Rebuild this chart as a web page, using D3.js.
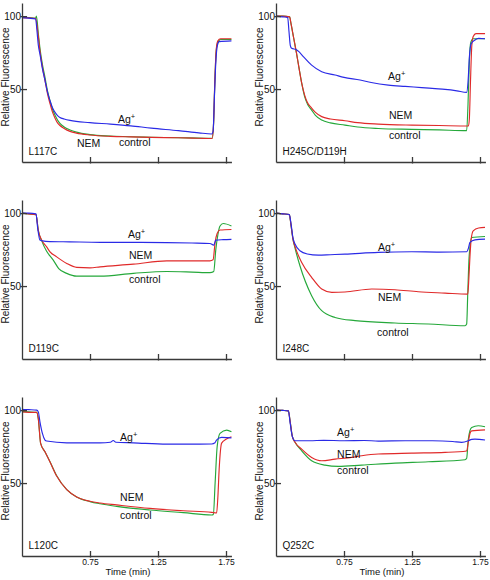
<!DOCTYPE html>
<html>
<head>
<meta charset="utf-8">
<script src="https://cdn.jsdelivr.net/npm/d3@7"></script>
<style>
  html, body { margin: 0; padding: 0; background: #fff; }
  svg { display: block; font-family: "Liberation Sans", Arial, sans-serif; }
</style>
</head>
<body>
<svg id="chart" width="490" height="580"></svg>
<script>
// ---- data: [time (min), relative fluorescence] ----
const L117C_control = [[0.25,99.5],[0.30,99],[0.35,98.5],[0.356,100],[0.37,88],[0.382,78],[0.40,67],[0.419,58],[0.437,49],[0.456,42],[0.475,36],[0.493,32],[0.51,29],[0.529,26.5],[0.56,24],[0.603,22],[0.65,20.5],[0.75,18.8],[0.90,17.8],[1.05,17.3],[1.20,17],[1.40,16.6],[1.55,16.4],[1.648,16.2],[1.658,25],[1.668,55],[1.678,76],[1.69,82],[1.71,84],[1.79,84]];
const L117C_NEM = [[0.25,99],[0.30,98.8],[0.35,98.5],[0.37,86],[0.382,76],[0.40,65],[0.419,56],[0.437,47],[0.456,40],[0.475,34],[0.493,30],[0.51,27],[0.529,25],[0.56,23],[0.603,21],[0.65,19.8],[0.75,18.5],[0.90,17.6],[1.05,17.2],[1.20,16.9],[1.40,16.6],[1.55,16.3],[1.648,16.1],[1.658,25],[1.668,56],[1.678,77],[1.69,83],[1.71,84.5],[1.79,84.5]];
const L117C_Ag = [[0.25,99],[0.30,98.6],[0.35,98],[0.36,90],[0.37,80],[0.382,74],[0.40,64],[0.419,56],[0.437,48],[0.456,42],[0.475,37],[0.493,34],[0.51,32],[0.529,30.5],[0.56,29.5],[0.603,28.5],[0.75,27],[0.90,26],[1.05,24.8],[1.20,23.2],[1.40,21.5],[1.55,20],[1.645,19.2],[1.655,21],[1.665,45],[1.675,68],[1.687,80],[1.70,82.5],[1.79,83]];

const H245C_control = [[0.25,100],[0.30,100],[0.35,99.5],[0.36,95],[0.38,85],[0.40,75],[0.42,64],[0.439,54],[0.46,45],[0.48,40],[0.512,35.6],[0.54,32],[0.586,28.8],[0.65,26.8],[0.757,25.3],[0.85,24],[1.002,23],[1.248,22.4],[1.45,22],[1.652,21.5],[1.662,40],[1.672,70],[1.682,82],[1.70,84.5],[1.787,84.5]];
const H245C_NEM = [[0.25,100],[0.30,100],[0.35,99.5],[0.36,95],[0.38,85],[0.40,75],[0.42,64],[0.439,54],[0.46,46],[0.48,41],[0.512,37],[0.54,34],[0.586,31.1],[0.65,29.5],[0.757,28.3],[0.85,27],[1.002,26],[1.248,25.3],[1.45,25],[1.665,24.7],[1.672,30],[1.68,55],[1.69,80],[1.70,86],[1.72,88],[1.787,88]];
const H245C_Ag = [[0.25,100],[0.30,99.5],[0.336,99],[0.345,90],[0.355,80],[0.365,77.9],[0.40,77],[0.414,76],[0.451,72.3],[0.512,66.4],[0.586,61.9],[0.684,59.6],[0.75,58],[0.868,56.2],[0.95,54.5],[1.076,52.7],[1.2,51.8],[1.321,51],[1.42,50.3],[1.493,49.8],[1.58,48.8],[1.652,47.7],[1.662,55],[1.672,72],[1.685,81],[1.713,83.6],[1.74,84.7],[1.787,84.5]];

const D119C_control = [[0.25,100],[0.30,99.5],[0.353,99],[0.37,88],[0.395,81],[0.43,74],[0.48,67.8],[0.52,62],[0.579,58.7],[0.652,56.8],[0.824,56.8],[1.069,58.7],[1.314,60],[1.50,59.6],[1.632,59.2],[1.66,60],[1.675,75],[1.69,85],[1.705,91],[1.73,92.9],[1.79,91.2]];
const D119C_NEM = [[0.25,100],[0.30,99.5],[0.353,99],[0.37,88],[0.395,81.5],[0.43,77],[0.456,73.5],[0.505,70],[0.579,65.5],[0.652,62.8],[0.75,62.5],[0.824,63.2],[1.069,65],[1.314,67.3],[1.632,67.3],[1.655,68],[1.67,80],[1.685,86],[1.706,88.4],[1.79,88.8]];
const D119C_Ag = [[0.25,100],[0.30,100],[0.353,99.5],[0.365,90],[0.382,81.5],[0.40,81],[0.456,80.5],[0.6,80.3],[0.824,80],[1.069,80],[1.314,79.8],[1.50,79.5],[1.632,79.2],[1.66,78],[1.675,81.5],[1.73,81.8],[1.79,82]];

const I248C_control = [[0.25,100],[0.30,99.5],[0.348,99],[0.36,92],[0.375,82],[0.39,76],[0.426,63.9],[0.512,43.4],[0.586,33.1],[0.684,28.5],[0.831,26.3],[1.125,24.7],[1.37,24],[1.64,22.8],[1.652,24],[1.66,45],[1.67,70],[1.689,83.3],[1.787,84]];
const I248C_NEM = [[0.25,100],[0.30,99.5],[0.348,99],[0.36,92],[0.375,82],[0.39,77],[0.439,66.2],[0.512,56],[0.586,48],[0.66,45.7],[0.757,45.9],[0.954,48],[1.125,47.5],[1.296,46.1],[1.493,45.2],[1.66,44.5],[1.668,55],[1.676,70],[1.685,82],[1.70,87.9],[1.74,89.8],[1.787,90.2]];
const I248C_Ag = [[0.25,100],[0.30,99.5],[0.348,99],[0.36,93],[0.375,83],[0.39,78.8],[0.426,74.2],[0.48,72],[0.561,71.2],[0.65,71.5],[0.757,71.9],[1.002,73.1],[1.248,73.5],[1.45,73.3],[1.652,73.5],[1.665,76],[1.676,79.9],[1.713,81.7],[1.787,82.2]];

const L120C_control = [[0.25,99],[0.30,98.8],[0.358,98.5],[0.37,94],[0.387,77.2],[0.419,71.4],[0.456,64.6],[0.505,55],[0.579,45.5],[0.652,40.5],[0.75,37.3],[0.824,35.8],[0.946,34],[1.191,31.5],[1.436,29.7],[1.645,28.1],[1.657,28.5],[1.67,50],[1.685,75],[1.706,84],[1.755,86.3],[1.79,85.2]];
const L120C_NEM = [[0.25,98.8],[0.30,98.5],[0.358,98.5],[0.37,94],[0.387,77.2],[0.419,71.4],[0.456,64.4],[0.505,54.8],[0.579,45.5],[0.652,40.5],[0.75,37.5],[0.824,36.3],[0.946,35],[1.191,32.6],[1.436,31],[1.645,29.9],[1.681,29.5],[1.69,40],[1.70,60],[1.718,77.4],[1.75,80],[1.79,81.7]];
const L120C_Ag = [[0.25,100.5],[0.30,100.3],[0.358,100],[0.37,98.8],[0.382,92],[0.40,84],[0.419,79.5],[0.431,78.8],[0.579,77.6],[0.824,77.6],[0.90,78],[0.921,79.2],[0.94,78],[1.069,77.6],[1.314,76.7],[1.559,76.7],[1.645,76.8],[1.669,77.6],[1.68,79.5],[1.718,81.3],[1.79,81]];

const Q252C_control = [[0.25,100],[0.30,99.8],[0.341,99.5],[0.353,93],[0.37,82],[0.39,78],[0.439,72.1],[0.512,65.3],[0.61,62.3],[0.708,61.4],[0.88,62.3],[1.125,63.7],[1.37,64.6],[1.64,66],[1.652,67],[1.664,80],[1.676,86],[1.689,88.1],[1.737,89.3],[1.787,88.6]];
const Q252C_NEM = [[0.25,100],[0.30,99.8],[0.341,99.5],[0.353,93],[0.37,82],[0.39,78],[0.439,73.3],[0.512,67.6],[0.586,65.3],[0.684,66.4],[0.807,67.6],[0.88,68.7],[1.002,69.9],[1.248,70.5],[1.493,71],[1.652,72],[1.664,78],[1.676,84],[1.689,85.8],[1.787,86.5]];
const Q252C_Ag = [[0.25,100],[0.30,99.8],[0.341,99.5],[0.353,92],[0.37,82],[0.39,79],[0.50,79],[0.60,79.3],[0.75,79],[0.90,79.2],[1.002,78.8],[1.2,79],[1.4,79],[1.55,78.5],[1.615,77.9],[1.664,79],[1.689,80],[1.713,80.1],[1.787,79.5]];

const panelNames = ["L117C", "H245C/D119H", "D119C", "I248C", "L120C", "Q252C"];
const seriesNames = ["control", "NEM", "Ag"];
const seriesColors = ["#25a83a", "#e02a2a", "#2a2ae6"];
const xTicks = [0.75, 1.25, 1.75];
const xTickLabels = ["0.75", "1.25", "1.75"];
const yTicks = [50, 100];
const yTickLabels = ["50", "100"];
const xDomain = [0.25, 1.79];
const yDomain = [0, 109];
// label anchors [t, v] for control, NEM, Ag+
const labelAnchors = [
  [[0.963, 11], [0.654, 10.3], [0.956, 26.7]],
  [[1.081, 15.8], [1.081, 29.5], [1.074, 56.2]],
  [[1.037, 52], [1.037, 68.5], [1.029, 82.9]],
  [[0.993, 15.8], [1.0, 39.7], [1.0, 74]],
  [[0.971, 25.3], [0.971, 37.7], [0.971, 78.8]],
  [[0.699, 56.2], [0.699, 67.1], [0.699, 82.2]]
];
const panelData = [
  [L117C_control, L117C_NEM, L117C_Ag],
  [H245C_control, H245C_NEM, H245C_Ag],
  [D119C_control, D119C_NEM, D119C_Ag],
  [I248C_control, I248C_NEM, I248C_Ag],
  [L120C_control, L120C_NEM, L120C_Ag],
  [Q252C_control, Q252C_NEM, Q252C_Ag]
];

// ---- layout ----
const colX = [22, 276];
const rowAxisY = [162, 359, 556];
const plotW = 136 * (xDomain[1] - xDomain[0]);
const plotH = 159;
const axisColor = "#3a3a3a";

const svg = d3.select("#chart");
svg.append("rect").attr("width", 490).attr("height", 580).attr("fill", "#fff");

panelNames.forEach((name, i) => {
  const col = i % 2, row = Math.floor(i / 2);
  const x0 = colX[col], yb = rowAxisY[row];
  const x = d3.scaleLinear().domain(xDomain).range([x0, x0 + plotW]);
  const y = d3.scaleLinear().domain(yDomain).range([yb, yb - plotH]);
  const g = svg.append("g");

  // lines
  const line = d3.line().x(d => x(d[0])).y(d => y(d[1])).curve(d3.curveMonotoneX);
  panelData[i].forEach((s, k) => {
    g.append("path").datum(s).attr("d", line)
      .attr("fill", "none").attr("stroke", seriesColors[k])
      .attr("stroke-width", 1.15).attr("stroke-linejoin", "round");
  });

  // y axis
  const ya = d3.axisLeft(y).tickValues(yTicks).tickFormat((d, j) => yTickLabels[j])
    .tickSizeInner(-5).tickSizeOuter(0).tickPadding(1);
  const yg = g.append("g").attr("transform", `translate(${x0},0)`).call(ya);
  yg.select(".domain").attr("stroke", axisColor).attr("stroke-width", 1.3);
  yg.selectAll(".tick line").attr("stroke", axisColor).attr("stroke-width", 1.3).attr("x1", -1.5);
  yg.selectAll(".tick text").attr("fill", "#111").style("font-size", "10px").attr("dy", "0.36em");

  // x axis
  const bottom = row === 2;
  const xa = d3.axisBottom(x).tickValues(xTicks)
    .tickFormat((d, j) => bottom ? xTickLabels[j] : "")
    .tickSizeInner(-5).tickSizeOuter(0).tickPadding(3);
  const xg = g.append("g").attr("transform", `translate(0,${yb})`).call(xa);
  xg.select(".domain").attr("stroke", axisColor).attr("stroke-width", 1.3);
  xg.selectAll(".tick line").attr("stroke", axisColor).attr("stroke-width", 1.3).attr("y1", 1.5);
  xg.selectAll(".tick text").attr("fill", "#111").style("font-size", "8.5px");

  // y label
  g.append("text")
    .attr("transform", `translate(${x0 - 13.5},${yb - 85}) rotate(-90)`)
    .attr("text-anchor", "middle").attr("fill", "#111")
    .style("font-size", "10px").text("Relative Fluorescence");

  // x label
  if (bottom) {
    g.append("text").attr("x", x0 + 106).attr("y", yb + 19)
      .attr("text-anchor", "middle").attr("fill", "#111")
      .style("font-size", "9.5px").text("Time (min)");
  }

  // panel name
  g.append("text").attr("x", x0 + 6.5).attr("y", yb - 7)
    .attr("fill", "#111").style("font-size", "10px").text(name);

  // series labels
  labelAnchors[i].forEach((a, k) => {
    const t = g.append("text").attr("x", x(a[0])).attr("y", y(a[1]))
      .attr("fill", "#111").style("font-size", "10.5px");
    if (seriesNames[k] === "Ag") {
      t.append("tspan").text("Ag");
      t.append("tspan").attr("dy", "-4").style("font-size", "7.5px").text("+");
    } else {
      t.text(seriesNames[k]);
    }
  });
});
</script>
</body>
</html>
